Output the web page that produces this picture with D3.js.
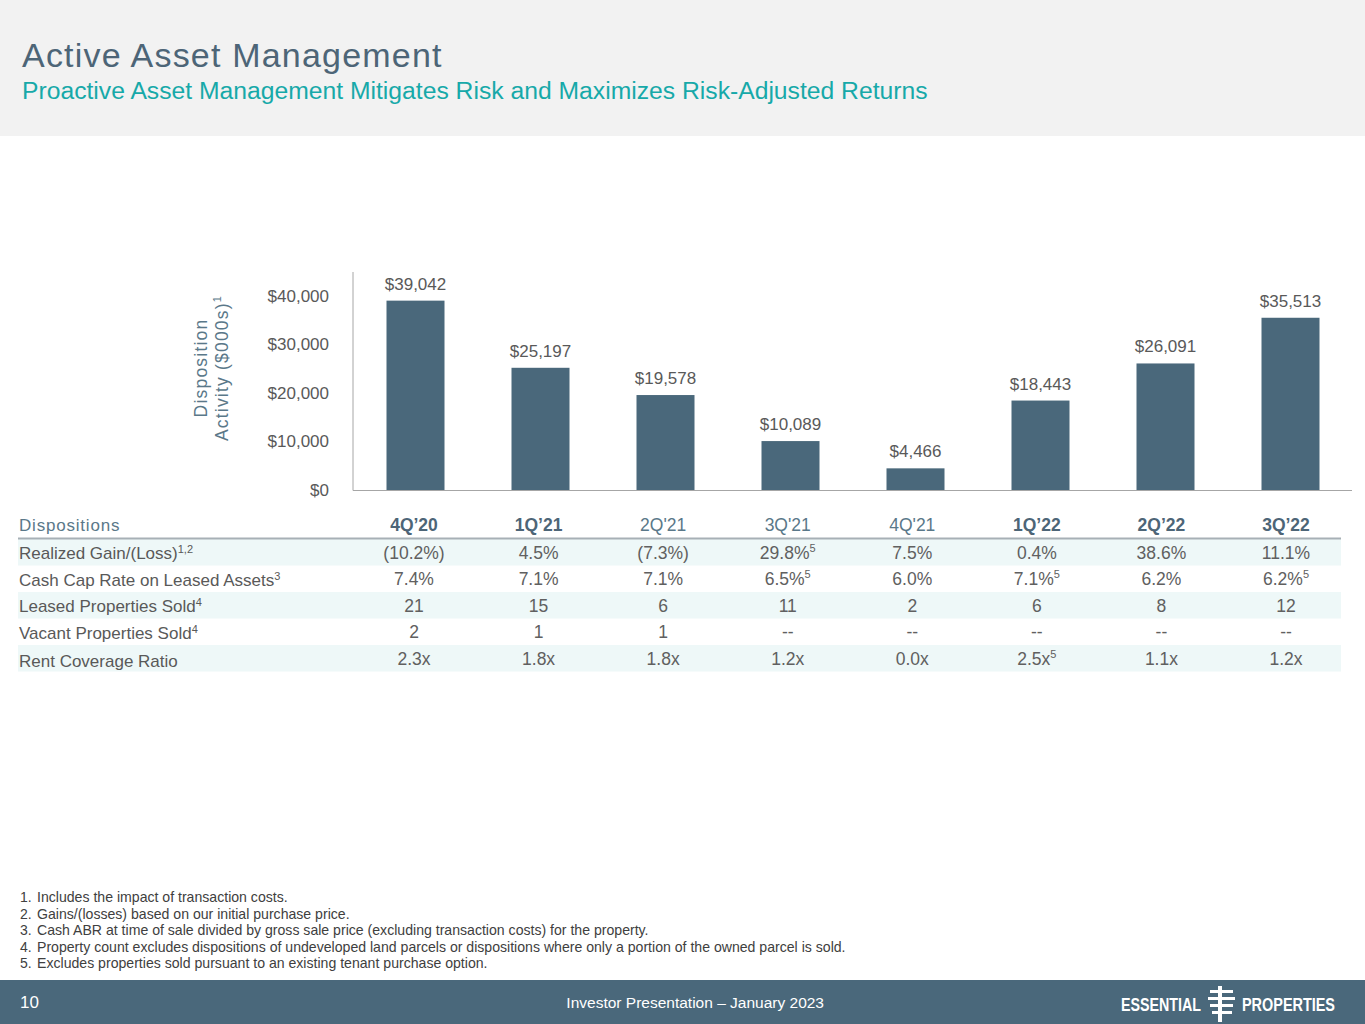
<!DOCTYPE html>
<html>
<head>
<meta charset="utf-8">
<script src="https://cdn.jsdelivr.net/npm/d3@7"></script>
<style>
  body { margin: 0; background: white; }
  svg text { font-family: "Liberation Sans", Arial, sans-serif; }
</style>
</head>
<body>
<script>
var quarters = ["4Q\u201920", "1Q\u201921", "2Q'21", "3Q'21", "4Q'21", "1Q\u201922", "2Q\u201922", "3Q\u201922"];
var boldQuarters = [true, true, false, false, false, true, true, true];
var dispositions = [39042, 25197, 19578, 10089, 4466, 18443, 26091, 35513];
var yTicks = [0, 10000, 20000, 30000, 40000];

var rowLabels = [
	["Realized Gain/(Loss)", "1,2"],
	["Cash Cap Rate on Leased Assets", "3"],
	["Leased Properties Sold", "4"],
	["Vacant Properties Sold", "4"],
	["Rent Coverage Ratio", ""]
];
var realizedGain = ["(10.2%)", "4.5%", "(7.3%)", "29.8%|5", "7.5%", "0.4%", "38.6%", "11.1%"];
var capRate = ["7.4%", "7.1%", "7.1%", "6.5%|5", "6.0%", "7.1%|5", "6.2%", "6.2%|5"];
var leasedSold = ["21", "15", "6", "11", "2", "6", "8", "12"];
var vacantSold = ["2", "1", "1", "--", "--", "--", "--", "--"];
var rentCoverage = ["2.3x", "1.8x", "1.8x", "1.2x", "0.0x", "2.5x|5", "1.1x", "1.2x"];
var tableRows = [realizedGain, capRate, leasedSold, vacantSold, rentCoverage];

var footnotes = [
	["1.", "Includes the impact of transaction costs."],
	["2.", "Gains/(losses) based on our initial purchase price."],
	["3.", "Cash ABR at time of sale divided by gross sale price (excluding transaction costs) for the property."],
	["4.", "Property count excludes dispositions of undeveloped land parcels or dispositions where only a portion of the owned parcel is sold."],
	["5.", "Excludes properties sold pursuant to an existing tenant purchase option."]
];

var width = 1365, height = 1024;
var slate = "#4a687b";
var grey = "#595959";

var svg = d3.select("body").append("svg")
	.attr("width", width)
	.attr("height", height);

// header band
svg.append("rect").attr("x", 0).attr("y", 0).attr("width", width).attr("height", 136).attr("fill", "#f2f2f2");
svg.append("text").attr("x", 22).attr("y", 67)
	.attr("font-size", 34).attr("fill", "#4d6577").attr("letter-spacing", 1.2)
	.text("Active Asset Management");
svg.append("text").attr("x", 22).attr("y", 99)
	.attr("font-size", 24.7).attr("fill", "#17a9a9")
	.text("Proactive Asset Management Mitigates Risk and Maximizes Risk-Adjusted Returns");

// chart
var x = d3.scaleBand().domain(quarters).range([353, 1353]).paddingInner(0.536).paddingOuter(0.268);
var y = d3.scaleLinear().domain([0, 40000]).range([490, 296]);
// table columns sit slightly off the bar centres
var col = d3.scalePoint().domain(quarters).range([414, 1286]);

var chart = svg.append("g");

chart.selectAll("rect.bar")
	.data(dispositions)
	.enter().append("rect")
	.attr("class", "bar")
	.attr("x", (d, i) => x(quarters[i]))
	.attr("width", x.bandwidth())
	.attr("y", d => y(d))
	.attr("height", d => y(0) - y(d))
	.attr("fill", slate);

chart.selectAll("text.val")
	.data(dispositions)
	.enter().append("text")
	.attr("class", "val")
	.attr("x", (d, i) => x(quarters[i]) + x.bandwidth() / 2)
	.attr("y", d => y(d) - 11)
	.attr("text-anchor", "middle")
	.attr("font-size", 17).attr("fill", grey)
	.text(d => "$" + d3.format(",")(d));

var yAxis = chart.append("g")
	.attr("transform", "translate(353,0)")
	.call(d3.axisLeft(y).tickValues(yTicks).tickSize(0).tickPadding(24).tickFormat(d => "$" + d3.format(",")(d)));
yAxis.select(".domain").attr("stroke", "#a6a6a6").attr("d", "M0,272V490.5");
yAxis.selectAll("text").attr("font-size", 17).attr("fill", grey).attr("font-family", "Liberation Sans, Arial, sans-serif");

chart.append("line")
	.attr("x1", 353).attr("x2", 1352).attr("y1", 490.5).attr("y2", 490.5)
	.attr("stroke", "#a6a6a6");

var yTitle = chart.append("text")
	.attr("transform", "translate(207,368) rotate(-90)")
	.attr("text-anchor", "middle")
	.attr("font-size", 17.5).attr("fill", "#5a7889").attr("letter-spacing", 1.2);
yTitle.append("tspan").attr("x", 0).attr("dy", 0).text("Disposition");
yTitle.append("tspan").attr("x", 0).attr("dy", 21).text("Activity ($000s)");
yTitle.append("tspan").attr("dy", -7).attr("font-size", 11).text("1");

// table
var table = svg.append("g");
var rowTop = 539, rowH = 26.5;
tableRows.forEach((row, r) => {
	if (r % 2 === 0) {
		table.append("rect").attr("x", 18).attr("y", rowTop + r * rowH)
			.attr("width", 1323).attr("height", rowH).attr("fill", "#eef8f8");
	}
});
table.append("line").attr("x1", 18).attr("x2", 1341).attr("y1", 538.5).attr("y2", 538.5)
	.attr("stroke", "#a7b0b6").attr("stroke-width", 2);

table.append("text").attr("x", 19).attr("y", 531)
	.attr("font-size", 17).attr("fill", "#5a7889").attr("letter-spacing", 0.8)
	.text("Dispositions");

table.selectAll("text.qh")
	.data(quarters)
	.enter().append("text")
	.attr("class", "qh")
	.attr("x", d => col(d))
	.attr("y", 531)
	.attr("text-anchor", "middle")
	.attr("font-size", 17.5)
	.attr("font-weight", (d, i) => boldQuarters[i] ? "bold" : "normal")
	.attr("fill", (d, i) => boldQuarters[i] ? "#4d6577" : "#5a7889")
	.text(d => d);

rowLabels.forEach((lab, r) => {
	var t = table.append("text").attr("x", 19).attr("y", rowTop + r * rowH + 20 + (r === 4 ? 2 : 0))
		.attr("font-size", 17).attr("fill", grey);
	t.append("tspan").text(lab[0]);
	if (lab[1]) t.append("tspan").attr("dy", -6).attr("font-size", 11).text(lab[1]);
});

tableRows.forEach((row, r) => {
	row.forEach((v, i) => {
		var parts = v.split("|");
		var t = table.append("text")
			.attr("x", col(quarters[i]))
			.attr("y", rowTop + r * rowH + 19.5)
			.attr("text-anchor", "middle")
			.attr("font-size", 17.5).attr("fill", "#606060");
		t.append("tspan").text(parts[0]);
		if (parts[1]) t.append("tspan").attr("dy", -7).attr("font-size", 11).text(parts[1]);
	});
});

// footnotes
var fn = svg.selectAll("g.fn")
	.data(footnotes)
	.enter().append("g")
	.attr("class", "fn")
	.attr("transform", (d, i) => "translate(0," + (902 + i * 16.5) + ")");
fn.append("text").attr("x", 20).attr("font-size", 14).attr("fill", "#404040").text(d => d[0]);
fn.append("text").attr("x", 37).attr("font-size", 14.1).attr("fill", "#404040").text(d => d[1]);

// footer
svg.append("rect").attr("x", 0).attr("y", 980).attr("width", width).attr("height", 44).attr("fill", slate);
svg.append("text").attr("x", 20).attr("y", 1008).attr("font-size", 17).attr("fill", "white").text("10");
svg.append("text").attr("x", 824).attr("y", 1008).attr("text-anchor", "end")
	.attr("font-size", 15.5).attr("fill", "white").text("Investor Presentation \u2013 January 2023");

var logo = svg.append("g").attr("fill", "white");
logo.append("text").attr("x", 1121).attr("y", 1011).attr("font-size", 19).attr("font-weight", "bold")
	.attr("font-family", "DejaVu Sans Condensed, Liberation Sans Narrow, sans-serif")
	.attr("textLength", 80).attr("lengthAdjust", "spacingAndGlyphs").text("ESSENTIAL");
logo.append("text").attr("x", 1242).attr("y", 1011).attr("font-size", 19).attr("font-weight", "bold")
	.attr("font-family", "DejaVu Sans Condensed, Liberation Sans Narrow, sans-serif")
	.attr("textLength", 93).attr("lengthAdjust", "spacingAndGlyphs").text("PROPERTIES");
logo.append("rect").attr("x", 1218).attr("y", 986).attr("width", 4).attr("height", 36);
[[1210, 990, 12], [1222, 990, 11], [1208, 997, 14], [1222, 997, 13], [1210, 1004, 12], [1222, 1004, 11], [1212, 1011, 10], [1222, 1011, 10]].forEach(b => {
	logo.append("rect").attr("x", b[0]).attr("y", b[1]).attr("width", b[2]).attr("height", 3);
});
</script>
</body>
</html>
